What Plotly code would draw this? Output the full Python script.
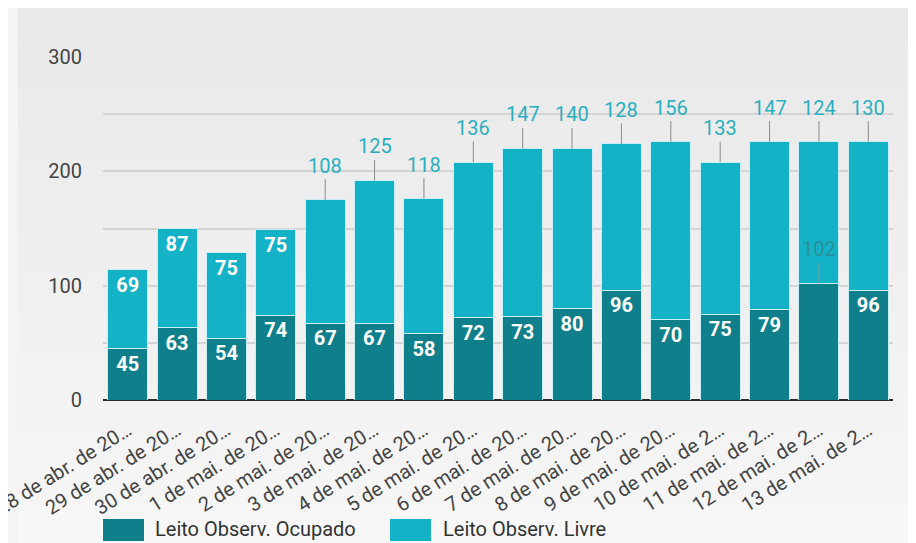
import plotly.graph_objects as go

# ---- data ----
categories = [
    "28 de abr. de 20…", "29 de abr. de 20…", "30 de abr. de 20…",
    "1 de mai. de 20…", "2 de mai. de 20…", "3 de mai. de 20…",
    "4 de mai. de 20…", "5 de mai. de 20…", "6 de mai. de 20…",
    "7 de mai. de 20…", "8 de mai. de 20…", "9 de mai. de 20…",
    "10 de mai. de 2…", "11 de mai. de 2…", "12 de mai. de 2…",
    "13 de mai. de 2…",
]
ocupado = [45, 63, 54, 74, 67, 67, 58, 72, 73, 80, 96, 70, 75, 79, 102, 96]
livre = [69, 87, 75, 75, 108, 125, 118, 136, 147, 140, 128, 156, 133, 147, 124, 130]
series_names = ["Leito Observ. Ocupado", "Leito Observ. Livre"]
y_tick_values = [0, 100, 200, 300]

# ---- label placement (style): True = label inside bar, False = callout above ----
ocupado_label_inside = [True] * 14 + [False] + [True]
livre_label_inside = [True] * 4 + [False] * 12

# ---- style ----
DARK = "#0f7f8b"
LIGHT = "#14b2c6"
FONT = "Roboto"
OFF = 8                      # page body margin offset
W, H = 916 - OFF, 543 - OFF
L, R, T, B = 103 - OFF, 23, 57 - OFF, 143
plot_w = W - L - R
plot_h = H - T - B

fig = go.Figure()

fig.add_trace(go.Bar(
    x=categories, y=ocupado, name=series_names[0],
    marker=dict(color=DARK, line=dict(color="#c9eef3", width=1)),
    text=[str(v) if ins else "" for v, ins in zip(ocupado, ocupado_label_inside)],
    textposition="inside", insidetextanchor="end",
    textfont=dict(family=FONT, size=20, color="white", weight="bold"),
    showlegend=False, hoverinfo="x+y",
))
fig.add_trace(go.Bar(
    x=categories, y=livre, name=series_names[1],
    marker=dict(color=LIGHT, line=dict(color="#c9eef3", width=1)),
    text=[str(v) if ins else "" for v, ins in zip(livre, livre_label_inside)],
    textposition="inside", insidetextanchor="end",
    textfont=dict(family=FONT, size=20, color="white", weight="bold"),
    showlegend=False, hoverinfo="x+y",
))

annotations = []
for c, o, l, ins in zip(categories, ocupado, livre, livre_label_inside):
    if not ins:
        annotations.append(dict(
            x=c, y=o + l, xref="x", yref="y", text=str(l),
            showarrow=True, arrowhead=0, arrowwidth=1, arrowcolor="#8a8a8a",
            ax=0, ay=-34, standoff=0,
            font=dict(family=FONT, size=20, color="#2aafc0"),
        ))
for c, o, ins in zip(categories, ocupado, ocupado_label_inside):
    if not ins:
        annotations.append(dict(
            x=c, y=o, xref="x", yref="y", text=str(o),
            showarrow=True, arrowhead=0, arrowwidth=1, arrowcolor="#6f9ea3",
            ax=0, ay=-34, standoff=0,
            font=dict(family=FONT, size=20, color="#2b8f99"),
        ))

# page-pixel -> paper coordinate helpers
def px_x(px):
    return (px - OFF - L) / plot_w

def px_y(py):
    return (H - B - (py - OFF)) / plot_h

shapes = []
# subtle vertical background gradient
steps = 14
for i in range(steps):
    y0 = OFF + (543 - OFF) * i / steps
    y1 = OFF + (543 - OFF) * (i + 1) / steps
    g = int(233 + (247 - 233) * i / (steps - 1))
    shapes.append(dict(type="rect", xref="paper", yref="paper",
                       x0=px_x(OFF + 10), x1=px_x(916), y0=px_y(y1), y1=px_y(y0),
                       fillcolor=f"rgb({g},{g},{g})", line=dict(width=0),
                       layer="below"))

legend_items = [(series_names[0], DARK, 103, 153), (series_names[1], LIGHT, 390, 441)]
for name, col, sx, tx in legend_items:
    shapes.append(dict(type="rect", xref="paper", yref="paper",
                       x0=px_x(sx), x1=px_x(sx + 41), y0=px_y(541), y1=px_y(519),
                       fillcolor=col, line=dict(width=0)))
    annotations.append(dict(
        x=px_x(tx), y=px_y(529), xref="paper", yref="paper", text=name,
        showarrow=False, xanchor="left", yanchor="middle",
        font=dict(family=FONT, size=20, color="#333333"),
    ))

fig.update_layout(
    width=W, height=H,
    margin=dict(l=L, r=R, t=T, b=B, pad=0, autoexpand=False),
    barmode="stack", bargap=0.19,
    paper_bgcolor="#f4f4f4", plot_bgcolor="rgba(0,0,0,0)",
    font=dict(family=FONT, color="#444444"),
    showlegend=False,
    annotations=annotations,
    shapes=shapes,
    xaxis=dict(
        type="category", tickangle=-32, showgrid=False, ticks="",
        ticklabelstandoff=14,
        tickfont=dict(family=FONT, size=20, color="#444444"),
        automargin=False,
    ),
    yaxis=dict(
        range=[0, 300], tickvals=y_tick_values, ticks="",
        ticklabelstandoff=20,
        tickfont=dict(family=FONT, size=20, color="#444444"),
        showgrid=True, gridcolor="#d4d4d4", gridwidth=1.5,
        minor=dict(dtick=50, tick0=0, showgrid=True, gridcolor="#d4d4d4", gridwidth=1.5),
        zeroline=True, zerolinecolor="#2b2b2b", zerolinewidth=2,
        automargin=False,
    ),
)

fig.write_html("out.html")
